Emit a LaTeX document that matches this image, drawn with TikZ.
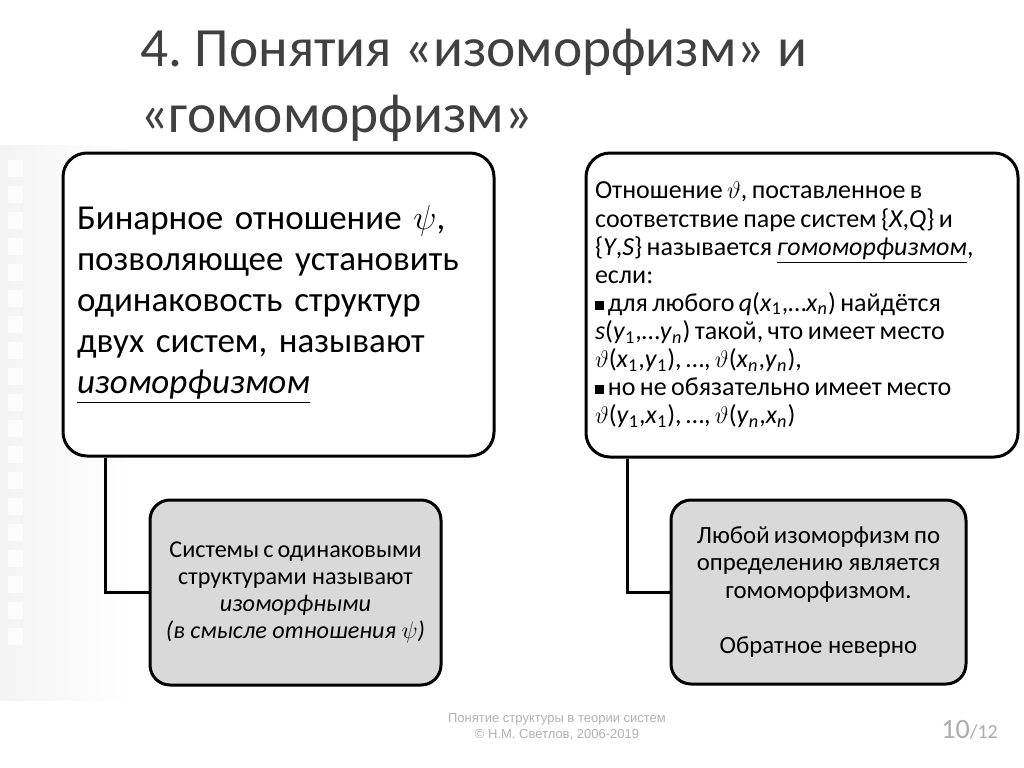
\documentclass[tikz,border=0pt]{standalone}
\usepackage{fontspec}
\setmainfont{Carlito}
\newfontfamily\footfont{Liberation Sans}

\newcommand{\sqbul}{\rule[0.8pt]{4.3pt}{4.3pt}\,}
\newcommand{\vth}{$\vartheta$}
\newcommand{\sub}[1]{\textsubscript{#1}}
\newcommand{\tightsp}{\spaceskip=0.17em plus 0.05em\relax}

\begin{document}
\frenchspacing
\begin{tikzpicture}[x=0.5pt, y=-0.5pt,
  bigbox/.style={draw, line width=1.5pt, rounded corners=12pt, fill=white, align=left},
  smallbox/.style={draw, line width=1.5pt, rounded corners=10pt, fill=gray!30, align=center},
  link/.style={line width=1.5pt}]
  \useasboundingbox (0,0) rectangle (1024,767);
  \fill[white] (0,0) rectangle (1024,767);
  % left strip
  \shade[left color=gray!9, right color=white] (0,145) rectangle (130,700);
  \foreach \y in {160,186,...,640}
    \fill[gray!2] (8,\y) rectangle (23,\y+17);
  % title
  \node[anchor=north west, inner sep=0pt, align=left, text=black!75,
    font=\fontsize{27.7}{33}\selectfont] (title) at (140,29)
    {4. Понятия «изоморфизм» и\\«гомоморфизм»};
  % upper boxes
  \node[bigbox, text width=201.5pt, inner xsep=7pt, minimum height=151.5pt,
    font=\fontsize{17.5}{20.5}\selectfont] (isoDef) at (278.5,304.5)
    {Бинарное отношение $\psi$,\\
     позволяющее установить\\
     одинаковость структур\\
     двух систем, называют\\
     \underline{\textit{изоморфизмом}}};
  \node[bigbox, text width=207pt, inner xsep=4.5pt, minimum height=152pt,
    font=\fontsize{13}{14.05}\selectfont] (homDef) at (802,305)
    {\tightsp Отношение \vth, поставленное в\\
     соответствие паре систем \{\textit{X},\textit{Q}\} и\\
     \{\textit{Y},\textit{S}\} называется \underline{\textit{гомоморфизмом}},\\
     если:\\
     \sqbul для любого \textit{q}(\textit{x}\sub{1},…\textit{x}\sub{\textit{n}}) найдётся\\
     \textit{s}(\textit{y}\sub{1},…\textit{y}\sub{\textit{n}}) такой, что имеет место\\
     \vth(\textit{x}\sub{1},\textit{y}\sub{1}), …, \vth(\textit{x}\sub{\textit{n}},\textit{y}\sub{\textit{n}}),\\
     \sqbul но не обязательно имеет место\\
     \vth(\textit{y}\sub{1},\textit{x}\sub{1}), …, \vth(\textit{y}\sub{\textit{n}},\textit{x}\sub{\textit{n}})};
  % lower boxes
  \node[smallbox, minimum width=145.5pt, minimum height=92.5pt,
    font=\fontsize{12.1}{13.5}\selectfont] (isoSys) at (295.5,592.5)
    {\tightsp Системы с одинаковыми\\
     структурами называют\\
     \textit{изоморфными}\\
     \textit{(в смысле отношения $\psi$)}};
  \node[smallbox, minimum width=147.5pt, minimum height=92pt,
    font=\fontsize{12.4}{13.8}\selectfont] (homNote) at (818.5,592)
    {\tightsp Любой изоморфизм по\\
     определению является\\
     гомоморфизмом.\\[13.8pt]
     Обратное неверно};
  \draw[link] ([xshift=22pt]isoDef.south west) |- (isoSys.west);
  \draw[link] ([xshift=21.5pt]homDef.south west) |- (homNote.west);
  % footer
  \node[align=center, text=gray!60, font=\footfont\fontsize{6.5}{8}\selectfont] (foot) at (557,727)
    {Понятие структуры в теории систем\\© Н.М. Светлов, 2006-2019};
  \node[anchor=base west, inner sep=0pt, text=gray!65] (page) at (941,738)
    {\fontsize{14}{16}\selectfont 10\fontsize{10}{12}\selectfont/12};
\end{tikzpicture}
\end{document}
